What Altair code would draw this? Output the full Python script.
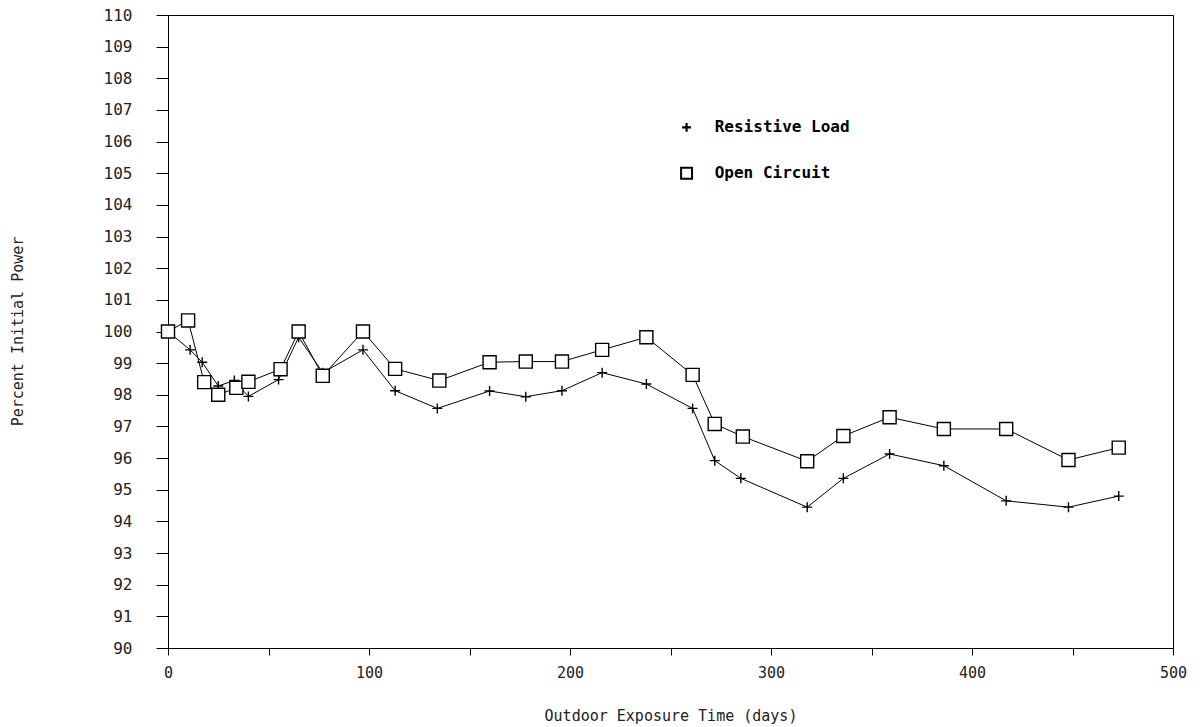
import altair as alt
import pandas as pd

# ---- data ----
series_names = ["Resistive Load", "Open Circuit"]

days_res = [0, 11, 17, 25, 33, 40, 55, 65, 77, 97, 113, 134, 160, 178, 196, 216,
            238, 261, 272, 285, 318, 336, 359, 386, 417, 448, 473]
power_res = [100.0, 99.42, 99.03, 98.28, 98.45, 97.95, 98.48, 99.82, 98.70, 99.42,
             98.13, 97.57, 98.12, 97.94, 98.13, 98.70, 98.34, 97.57, 95.92, 95.36,
             94.45, 95.36, 96.13, 95.76, 94.65, 94.45, 94.80]

days_open = [0, 10, 18, 25, 34, 40, 56, 65, 77, 97, 113, 135, 160, 178, 196, 216,
             238, 261, 272, 286, 318, 336, 359, 386, 417, 448, 473]
power_open = [100.0, 100.35, 98.40, 98.00, 98.22, 98.41, 98.81, 100.0, 98.60, 100.0,
              98.82, 98.45, 99.03, 99.05, 99.05, 99.42, 99.82, 98.63, 97.08, 96.68,
              95.90, 96.70, 97.29, 96.92, 96.92, 95.94, 96.33]

x_ticks = list(range(0, 501, 50))
y_ticks = list(range(90, 111))

# legend anchor positions (in data units, as placed on the original figure)
legend_symbol_day = [258, 258]
legend_text_day = [272, 272]
legend_power = [106.45, 105.0]

rows = []
for d, p in zip(days_res, power_res):
    rows.append({"day": d, "power": p, "series": series_names[0]})
for d, p in zip(days_open, power_open):
    rows.append({"day": d, "power": p, "series": series_names[1]})
df = pd.DataFrame(rows)

leg = pd.DataFrame({
    "series": series_names,
    "sday": legend_symbol_day,
    "tday": legend_text_day,
    "power": legend_power,
})

PLUS = "M-1,0L1,0M0,-1L0,1"
FONT = "DejaVu Sans Mono"

x_scale = alt.Scale(domain=[0, 500], nice=False, zero=False)
y_scale = alt.Scale(domain=[90, 110], nice=False, zero=False)
shape_scale = alt.Scale(domain=series_names, range=[PLUS, "square"])

x_axis = alt.Axis(
    values=x_ticks,
    labelExpr="datum.value % 100 == 0 ? datum.label : ''",
    grid=False, tickSize=7, labelPadding=10, labelFlush=False,
    labelFont=FONT, labelFontSize=15, labelColor="#222",
    domainColor="black", tickColor="black",
    title="Outdoor Exposure Time (days)",
    titleFont=FONT, titleFontSize=15, titleFontWeight="normal",
    titleColor="#222", titleY=67, titleBaseline="middle",
)
y_axis = alt.Axis(
    values=y_ticks, grid=False, tickSize=12, labelPadding=24,
    labelFlush=False,
    labelFont=FONT, labelFontSize=16, labelColor="#222",
    domainColor="black", tickColor="black",
    title="Percent Initial Power",
    titleFont=FONT, titleFontSize=15, titleFontWeight="normal",
    titleColor="#222", titleAngle=270, titleX=-151, titleY=316,
    titleAlign="center", titleBaseline="middle",
)

base = alt.Chart(df).encode(
    x=alt.X("day:Q", scale=x_scale, axis=x_axis),
    y=alt.Y("power:Q", scale=y_scale, axis=y_axis),
    detail="series:N",
)

lines = base.mark_line(color="black", strokeWidth=1)

shape_enc = alt.Shape("series:N", scale=shape_scale, legend=None)

points_res = base.transform_filter(
    alt.datum.series == series_names[0]
).mark_point(filled=False, fill="white", stroke="black", strokeWidth=1.4,
             opacity=1, size=100).encode(shape=shape_enc)

points_open = base.transform_filter(
    alt.datum.series == series_names[1]
).mark_point(filled=False, fill="white", stroke="black", strokeWidth=1.4,
             opacity=1, size=170).encode(shape=shape_enc)

leg_base = alt.Chart(leg)
leg_symbols_res = leg_base.transform_filter(
    alt.datum.series == series_names[0]
).mark_point(filled=False, fill="white", stroke="black", strokeWidth=2.2,
             opacity=1, size=80).encode(
    x=alt.X("sday:Q", scale=x_scale, axis=x_axis),
    y=alt.Y("power:Q", scale=y_scale, axis=y_axis),
    shape=shape_enc,
)
leg_symbols_open = leg_base.transform_filter(
    alt.datum.series == series_names[1]
).mark_point(filled=False, fill="white", stroke="black", strokeWidth=2.0,
             opacity=1, size=120).encode(
    x=alt.X("sday:Q", scale=x_scale, axis=x_axis),
    y=alt.Y("power:Q", scale=y_scale, axis=y_axis),
    shape=shape_enc,
)
leg_text = leg_base.mark_text(
    align="left", baseline="middle", font=FONT, fontSize=16,
    fontWeight="bold", color="black",
).encode(
    x=alt.X("tday:Q", scale=x_scale, axis=x_axis),
    y=alt.Y("power:Q", scale=y_scale, axis=y_axis),
    text="series:N",
)

chart = (
    alt.layer(lines, points_res, points_open,
              leg_symbols_res, leg_symbols_open, leg_text)
    .properties(
        width=1005, height=633,
        autosize=alt.AutoSizeParams(type="none"),
        padding={"left": 168, "top": 15, "right": 30, "bottom": 79},
        background="white",
    )
    .configure_view(stroke="black", strokeWidth=1)
)

chart.save("out.html", embed_options={"renderer": "svg", "actions": False})
